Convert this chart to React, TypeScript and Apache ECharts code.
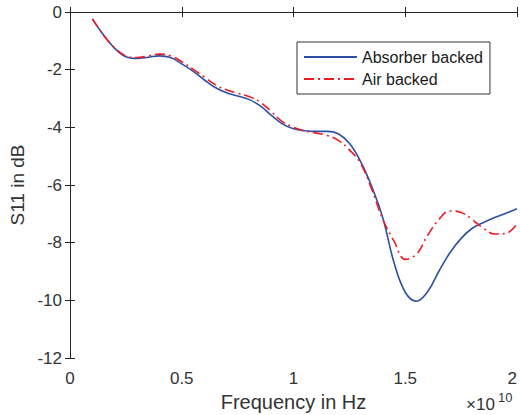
import React, { useEffect, useRef } from "react";
import * as echarts from "echarts";

// Frequency in units of 1e10 Hz
const freq = [
  0.10, 0.15, 0.20, 0.25, 0.30, 0.35, 0.40, 0.45, 0.50, 0.55,
  0.60, 0.65, 0.70, 0.75, 0.80, 0.85, 0.90, 0.95, 1.00, 1.05,
  1.10, 1.15, 1.20, 1.25, 1.30, 1.35, 1.40, 1.45, 1.50, 1.55,
  1.60, 1.65, 1.70, 1.75, 1.80, 1.85, 1.90, 1.95, 2.00,
];

const absorberBacked = [
  -0.24, -0.80, -1.26, -1.55, -1.61, -1.57, -1.52, -1.58, -1.80, -2.05,
  -2.35, -2.62, -2.80, -2.91, -3.03, -3.25, -3.58, -3.88, -4.05, -4.12,
  -4.14, -4.14, -4.22, -4.55, -5.18, -6.05, -7.15, -8.70, -9.72, -10.03,
  -9.70, -9.00, -8.35, -7.85, -7.50, -7.30, -7.13, -6.98, -6.82,
];

const airBacked = [
  -0.24, -0.80, -1.25, -1.52, -1.58, -1.52, -1.46, -1.52, -1.72, -1.98,
  -2.25, -2.52, -2.70, -2.82, -2.93, -3.12, -3.45, -3.80, -4.00, -4.12,
  -4.20, -4.28, -4.45, -4.78, -5.25, -6.15, -7.20, -7.95, -8.58, -8.40,
  -7.75, -7.20, -6.90, -6.95, -7.20, -7.50, -7.70, -7.68, -7.35,
];

const seriesNames = ["Absorber backed", "Air backed"];
const xTicks = { min: 0, max: 2, interval: 0.5 };
const yTicks = { min: -12, max: 0, interval: 2 };

const FONT = "'Liberation Sans', Arial, Helvetica, sans-serif";
const AXIS_COLOR = "#262626";
const LABEL_COLOR = "#333333";

export default function App() {
  const ref = useRef<HTMLDivElement>(null);

  useEffect(() => {
    if (!ref.current) return;
    const chart = echarts.init(ref.current, undefined, { renderer: "svg" });

    const axisCommon = {
      axisLine: { show: true, lineStyle: { color: AXIS_COLOR, width: 1 } },
      axisTick: { show: true, inside: true, length: 5, lineStyle: { color: AXIS_COLOR } },
      splitLine: { show: false },
    };

    chart.setOption({
      animation: false,
      backgroundColor: "#ffffff",
      textStyle: { fontFamily: FONT },
      grid: { left: 70, right: 3, top: 12, height: 346, containLabel: false, outerBoundsMode: "none" },
      legend: {
        orient: "vertical",
        left: 297,
        top: 42,
        width: 192,
        itemWidth: 53,
        itemHeight: 14,
        itemGap: 6,
        padding: [7, 7, 7, 6],
        borderColor: "#333333",
        borderWidth: 1,
        backgroundColor: "#ffffff",
        itemStyle: { color: "transparent", borderColor: "transparent", borderWidth: 0 },
        textStyle: { fontFamily: FONT, fontSize: 16, color: "#1a1a1a" },
        data: seriesNames,
      },
      xAxis: [
        {
          type: "value",
          ...xTicks,
          ...axisCommon,
          axisLabel: {
            show: true,
            margin: 12,
            fontSize: 17,
            color: LABEL_COLOR,
            fontFamily: FONT,
            alignMaxLabel: "right",
            formatter: (v: number) => String(v),
          },
          name: "Frequency in Hz",
          nameLocation: "middle",
          nameGap: 33,
          nameTextStyle: { fontSize: 20, color: LABEL_COLOR, fontFamily: FONT },
        },
        {
          type: "value",
          position: "top",
          ...xTicks,
          ...axisCommon,
          axisLabel: { show: false },
        },
      ],
      yAxis: [
        {
          type: "value",
          ...yTicks,
          ...axisCommon,
          axisLabel: {
            show: true,
            margin: 8,
            fontSize: 17,
            color: LABEL_COLOR,
            fontFamily: FONT,
          },
          name: "S11 in dB",
          nameLocation: "middle",
          nameGap: 41,
          nameTextStyle: { fontSize: 19, color: LABEL_COLOR, fontFamily: FONT },
        },
        {
          type: "value",
          position: "right",
          ...yTicks,
          ...axisCommon,
          axisLabel: { show: false },
        },
      ],
      graphic: [
        {
          type: "text",
          left: 466,
          top: 396,
          style: { text: "×10", fontSize: 17, fill: LABEL_COLOR, fontFamily: FONT },
        },
        {
          type: "text",
          left: 498,
          top: 391,
          style: { text: "10", fontSize: 13, fill: LABEL_COLOR, fontFamily: FONT },
        },
      ],
      series: [
        {
          name: seriesNames[0],
          type: "line",
          xAxisIndex: 0,
          yAxisIndex: 0,
          data: freq.map((f, i) => [f, absorberBacked[i]]),
          smooth: 0.4,
          symbol: "none",
          lineStyle: { color: "#2d4fa5", width: 1.6, type: "solid" },
          itemStyle: { color: "#2d4fa5" },
          z: 2,
        },
        {
          name: seriesNames[1],
          type: "line",
          xAxisIndex: 0,
          yAxisIndex: 0,
          data: freq.map((f, i) => [f, airBacked[i]]),
          smooth: 0.4,
          symbol: "none",
          lineStyle: { color: "#ec1c24", width: 1.6, type: [10, 4, 2, 4] },
          itemStyle: { color: "#ec1c24" },
          z: 3,
        },
      ],
    });

    return () => chart.dispose();
  }, []);

  return <div ref={ref} style={{ width: 520, height: 415, position: "absolute", left: 0, top: 0 }} />;
}
